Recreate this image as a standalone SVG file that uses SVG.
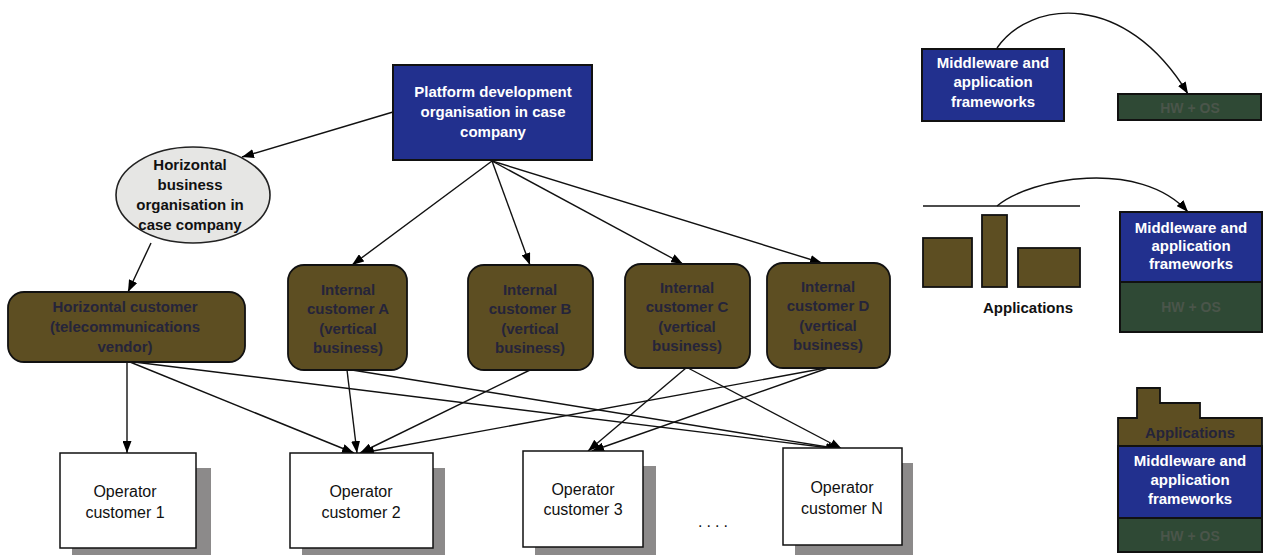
<svg xmlns="http://www.w3.org/2000/svg" width="1270" height="555" viewBox="0 0 1270 555">
  <defs>
    <marker id="arrow" markerUnits="userSpaceOnUse" markerWidth="12" markerHeight="9" refX="12" refY="4.5" orient="auto">
      <path d="M0,0 L12,4.5 L0,9 z" fill="#000"/>
    </marker>
  </defs>
  <style>
    .blue { fill: #22308e; stroke: #111; stroke-width: 2; }
    .brown { fill: #5d4e22; stroke: #111; stroke-width: 1.8; }
    .green { fill: #2f4935; stroke: #111; stroke-width: 2; }
    .op { fill: #fff; stroke: #111; stroke-width: 1.5; }
    .shadow { fill: #8c8a8a; }
    .conn { fill: none; stroke: #111; stroke-width: 1.4; marker-end: url(#arrow); }
    .plain { fill: none; stroke: #111; stroke-width: 1.6; }
    text { font-family: "Liberation Sans", Arial, sans-serif; text-anchor: middle; }
    .wt { fill: #fff; font-weight: bold; font-size: 15px; }
    .dk { fill: #25243a; font-weight: bold; font-size: 15px; }
    .bk { fill: #111; font-weight: bold; font-size: 15px; }
    .hw { fill: #4a554a; font-weight: bold; font-size: 14px; }
    .rg { fill: #111; font-size: 16px; }
  </style>

  <!-- connectors -->
  <g id="connectors">
    <path class="conn" d="M393,112 L242,157"/>
    <path class="conn" d="M151,243 L128,292"/>
    <path class="conn" d="M492,161 L352,265"/>
    <path class="conn" d="M492,161 L530,265"/>
    <path class="conn" d="M492,161 L683,264"/>
    <path class="conn" d="M492,161 L822,263"/>
    <path class="conn" d="M127,362 L127,453"/>
    <path class="conn" d="M130,362 L354,453"/>
    <path class="conn" d="M134,362 L838,449"/>
    <path class="conn" d="M347,370 L357,453"/>
    <path class="conn" d="M352,370 L840,449"/>
    <path class="conn" d="M530,370 L360,453"/>
    <path class="conn" d="M686,368 L588,451"/>
    <path class="conn" d="M688,368 L842,449"/>
    <path class="conn" d="M826,368 L362,453"/>
    <path class="conn" d="M828,368 L592,451"/>
    <path class="conn" d="M997,48 C1030,0 1125,-10 1188,94"/>
    <path class="conn" d="M997,206 C1030,178 1140,158 1188,212"/>
  </g>

  <g id="platform">
    <rect class="blue" x="393" y="65" width="199" height="95"/>
    <text class="wt" x="493" y="97">Platform development</text>
    <text class="wt" x="493" y="117">organisation in case</text>
    <text class="wt" x="493" y="137">company</text>
  </g>

  <g id="horizontal-business">
    <ellipse cx="193" cy="195" rx="77" ry="48" fill="#e6e6e4" stroke="#222" stroke-width="1.6"/>
    <text class="bk" x="190" y="170">Horizontal</text>
    <text class="bk" x="190" y="190">business</text>
    <text class="bk" x="190" y="210">organisation in</text>
    <text class="bk" x="190" y="230">case company</text>
  </g>

  <g id="horizontal-customer">
    <rect class="brown" x="8" y="292" width="237" height="70" rx="16"/>
    <text class="dk" x="125" y="312">Horizontal customer</text>
    <text class="dk" x="125" y="332">(telecommunications</text>
    <text class="dk" x="125" y="352">vendor)</text>
  </g>

  <g id="internal-a">
    <rect class="brown" x="288" y="265" width="119" height="105" rx="16"/>
    <text class="dk" x="348" y="295">Internal</text>
    <text class="dk" x="348" y="314">customer A</text>
    <text class="dk" x="348" y="334">(vertical</text>
    <text class="dk" x="348" y="353">business)</text>
  </g>

  <g id="internal-b">
    <rect class="brown" x="468" y="265" width="125" height="105" rx="16"/>
    <text class="dk" x="530" y="295">Internal</text>
    <text class="dk" x="530" y="314">customer B</text>
    <text class="dk" x="530" y="334">(vertical</text>
    <text class="dk" x="530" y="353">business)</text>
  </g>

  <g id="internal-c">
    <rect class="brown" x="625" y="264" width="125" height="104" rx="16"/>
    <text class="dk" x="687" y="293">Internal</text>
    <text class="dk" x="687" y="312">customer C</text>
    <text class="dk" x="687" y="332">(vertical</text>
    <text class="dk" x="687" y="351">business)</text>
  </g>

  <g id="internal-d">
    <rect class="brown" x="767" y="263" width="123" height="105" rx="16"/>
    <text class="dk" x="828" y="292">Internal</text>
    <text class="dk" x="828" y="311">customer D</text>
    <text class="dk" x="828" y="331">(vertical</text>
    <text class="dk" x="828" y="350">business)</text>
  </g>

  <g id="operator-1">
    <rect class="shadow" x="72" y="468" width="139" height="95"/>
    <rect class="op" x="60" y="453" width="136" height="95"/>
    <text class="rg" x="125" y="497">Operator</text>
    <text class="rg" x="125" y="518">customer 1</text>
  </g>

  <g id="operator-2">
    <rect class="shadow" x="302" y="468" width="143" height="95"/>
    <rect class="op" x="290" y="453" width="143" height="95"/>
    <text class="rg" x="361" y="497">Operator</text>
    <text class="rg" x="361" y="518">customer 2</text>
  </g>

  <g id="operator-3">
    <rect class="shadow" x="535" y="466" width="121" height="95"/>
    <rect class="op" x="523" y="451" width="120" height="96"/>
    <text class="rg" x="583" y="495">Operator</text>
    <text class="rg" x="583" y="515">customer 3</text>
  </g>

  <g id="ellipsis">
    <text class="rg" x="715" y="527" style="letter-spacing:4px">....</text>
  </g>

  <g id="operator-n">
    <rect class="shadow" x="795" y="463" width="118" height="95"/>
    <rect class="op" x="783" y="448" width="119" height="97"/>
    <text class="rg" x="842" y="493">Operator</text>
    <text class="rg" x="842" y="514">customer N</text>
  </g>

  <!-- layering, stage 1: separate middleware and HW/OS -->
  <g id="stage-1-middleware">
    <rect class="blue" x="922" y="49" width="142" height="72"/>
    <text class="wt" x="993" y="68">Middleware and</text>
    <text class="wt" x="993" y="87">application</text>
    <text class="wt" x="993" y="107">frameworks</text>
  </g>
  <g id="stage-1-hwos">
    <rect class="green" x="1118" y="94" width="143" height="26"/>
    <text class="hw" x="1190" y="113">HW + OS</text>
  </g>

  <!-- layering, stage 2: applications over combined platform -->
  <g id="stage-2-applications">
    <line class="plain" x1="923" y1="206" x2="1080" y2="206"/>
    <rect class="brown" x="923" y="238" width="49" height="49"/>
    <rect class="brown" x="982" y="215" width="25" height="72"/>
    <rect class="brown" x="1018" y="248" width="62" height="39"/>
    <text class="bk" x="1028" y="313">Applications</text>
  </g>
  <g id="stage-2-platform">
    <rect class="blue" x="1120" y="212" width="142" height="70"/>
    <rect class="green" x="1120" y="282" width="142" height="50"/>
    <text class="wt" x="1191" y="233">Middleware and</text>
    <text class="wt" x="1191" y="251">application</text>
    <text class="wt" x="1191" y="269">frameworks</text>
    <text class="hw" x="1191" y="312">HW + OS</text>
  </g>

  <!-- layering, stage 3: integrated stack -->
  <g id="stage-3-stack">
    <path class="brown" d="M1118,418 L1137,418 L1137,388 L1160,388 L1160,403 L1200,403 L1200,418 L1262,418 L1262,446 L1118,446 Z"/>
    <rect class="blue" x="1118" y="446" width="144" height="72"/>
    <rect class="green" x="1118" y="518" width="144" height="34"/>
    <text class="dk" x="1190" y="438">Applications</text>
    <text class="wt" x="1190" y="466">Middleware and</text>
    <text class="wt" x="1190" y="485">application</text>
    <text class="wt" x="1190" y="504">frameworks</text>
    <text class="hw" x="1190" y="541">HW + OS</text>
  </g>
</svg>
